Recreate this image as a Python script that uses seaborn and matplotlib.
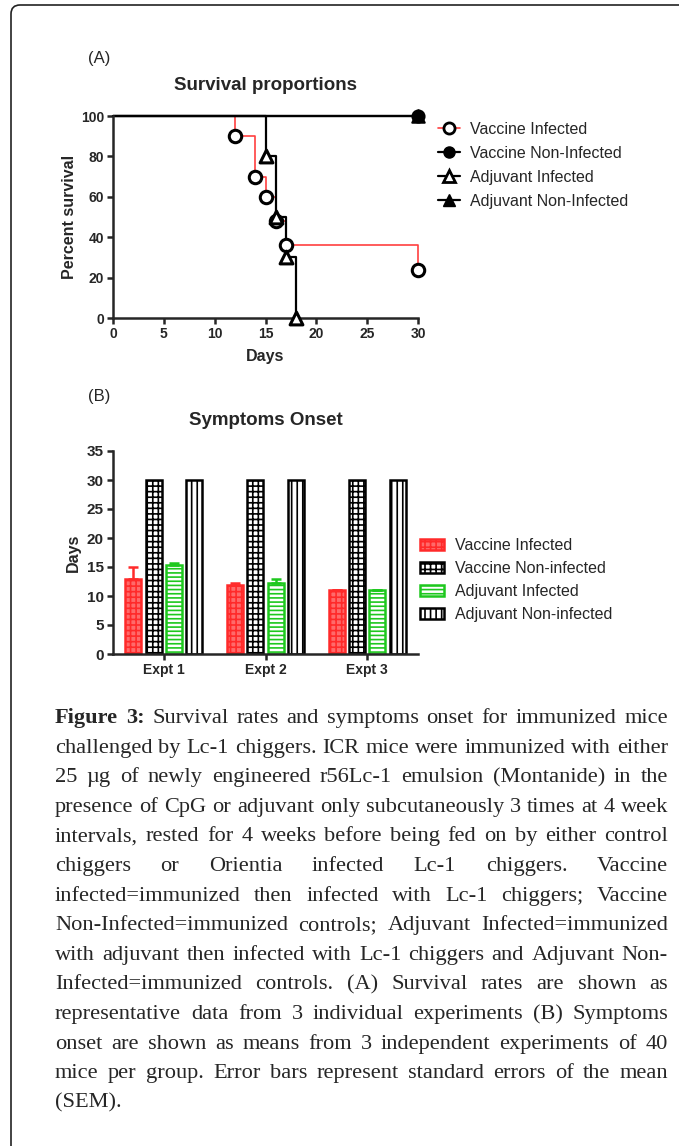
import numpy as np
import pandas as pd
import matplotlib
matplotlib.use("Agg")
import matplotlib.pyplot as plt
import seaborn as sns
from matplotlib.lines import Line2D
from matplotlib.patches import Patch, FancyBboxPatch

# (A) survival proportions
vi_days = [0, 12, 14, 15, 16, 17, 30]
vi_surv = [100, 90, 70, 60, 48, 36, 24]
vn_days = [0, 30]
vn_surv = [100, 100]
ai_days = [0, 15, 16, 17, 18]
ai_surv = [100, 80, 50, 30, 0]
an_days = [0, 30]
an_surv = [100, 100]
surv_labels = ["Vaccine Infected", "Vaccine Non-Infected", "Adjuvant Infected", "Adjuvant Non-Infected"]

# (B) symptoms onset
expts = ["Expt 1", "Expt 2", "Expt 3"]
groups_b = ["Vaccine Infected", "Vaccine Non-infected", "Adjuvant Infected", "Adjuvant Non-infected"]
onset_vi = [13.0, 11.9, 11.0]
onset_vn = [30, 30, 30]
onset_ai = [15.4, 12.2, 11.0]
onset_an = [30, 30, 30]
sem_vi = [2.0, 0.4, 0.0]
sem_ai = [0.25, 0.7, 0.0]

cap_lines = [
    "Figure 3: Survival rates and symptoms onset for immunized mice",
    "challenged by Lc-1 chiggers. ICR mice were immunized with either",
    "25 \u00b5g of newly engineered r56Lc-1 emulsion (Montanide) in the",
    "presence of CpG or adjuvant only subcutaneously 3 times at 4 week",
    "intervals, rested for 4 weeks before being fed on by either control",
    "chiggers or Orientia infected Lc-1 chiggers. Vaccine",
    "infected=immunized then infected with Lc-1 chiggers; Vaccine",
    "Non-Infected=immunized controls; Adjuvant Infected=immunized",
    "with adjuvant then infected with Lc-1 chiggers and Adjuvant Non-",
    "Infected=immunized controls. (A) Survival rates are shown as",
    "representative data from 3 individual experiments (B) Symptoms",
    "onset are shown as means from 3 independent experiments of 40",
    "mice per group. Error bars represent standard errors of the mean",
    "(SEM).",
]

sns.set_style("ticks")
plt.rcParams["font.family"] = ["Liberation Sans", "DejaVu Sans"]
plt.rcParams["hatch.linewidth"] = 1.2

W, H = 679, 1146
fig = plt.figure(figsize=(W / 100, H / 100), dpi=100)
RED = "#ff2a2a"
GREEN = "#1ec81e"

def style_axis(ax, xsize, ysize):
    sns.despine(ax=ax)
    for s in ["left", "bottom"]:
        ax.spines[s].set_linewidth(1.8)
    ax.tick_params(width=1.8, length=4.5, pad=2)
    ax.tick_params(axis="x", labelsize=xsize)
    ax.tick_params(axis="y", labelsize=ysize)
    for lbl in ax.get_xticklabels() + ax.get_yticklabels():
        lbl.set_fontweight("bold")

# ---------------- panel A
axA = fig.add_axes([113 / W, 1 - 318 / H, 305 / W, 202 / H])
sns.lineplot(x=vi_days, y=vi_surv, drawstyle="steps-post", color="#ff4040", lw=1.2, ax=axA, clip_on=False)
sns.lineplot(x=ai_days, y=ai_surv, drawstyle="steps-post", color="black", lw=1.6, ax=axA, clip_on=False)
sns.lineplot(x=vn_days, y=vn_surv, drawstyle="steps-post", color="black", lw=1.6, ax=axA, clip_on=False)
sns.lineplot(x=an_days, y=an_surv, drawstyle="steps-post", color="black", lw=1.6, ax=axA, clip_on=False)

sns.scatterplot(x=vi_days[1:], y=vi_surv[1:], marker="o", s=80, color="white", edgecolor="black",
                linewidth=2.2, ax=axA, clip_on=False, zorder=5)
sns.scatterplot(x=vn_days[-1:], y=vn_surv[-1:], marker="o", s=75, color="black", edgecolor="black",
                linewidth=1.5, ax=axA, clip_on=False, zorder=5)
sns.scatterplot(x=ai_days[1:], y=ai_surv[1:], marker="^", s=85, color="white", edgecolor="black",
                linewidth=2.2, ax=axA, clip_on=False, zorder=5)
sns.scatterplot(x=an_days[-1:], y=an_surv[-1:], marker="^", s=80, color="black", edgecolor="black",
                linewidth=1.5, ax=axA, clip_on=False, zorder=6)

axA.set_xlim(0, 30)
axA.set_ylim(0, 100)
axA.set_xticks(range(0, 31, 5))
axA.set_yticks(range(0, 101, 20))
style_axis(axA, 10, 10)
axA.set_xlabel("Days", fontsize=11.5, fontweight="bold")
axA.set_ylabel("Percent survival", fontsize=11.5, fontweight="bold")
axA.xaxis.set_label_coords(0.5, -(357 - 318) / 202)
axA.xaxis.label.set_va("center")
axA.yaxis.set_label_coords(-(113 - 69) / 305, 0.5)
axA.yaxis.label.set_va("center")
fig.text(266 / W, 1 - 85 / H, "Survival proportions", ha="center", va="center", fontsize=13.5, fontweight="bold")
fig.text(88 / W, 1 - 58 / H, "(A)", ha="left", va="center", fontsize=12)

hA = [
    Line2D([], [], color="#ff4040", lw=1.2, marker="o", ms=8, mfc="white", mec="black", mew=2),
    Line2D([], [], color="black", lw=1.6, marker="o", ms=8, mfc="black", mec="black"),
    Line2D([], [], color="black", lw=1.6, marker="^", ms=8, mfc="white", mec="black", mew=2),
    Line2D([], [], color="black", lw=1.6, marker="^", ms=8, mfc="black", mec="black"),
]
axA.legend(hA, surv_labels, loc="upper left", bbox_to_anchor=(438 / W, 1 - 122 / H),
           bbox_transform=fig.transFigure, frameon=False, fontsize=11.5, handlelength=1.4,
           handletextpad=0.6, labelspacing=0.56, borderpad=0, borderaxespad=0)

# ---------------- panel B
df_b = pd.DataFrame({
    "Expt": expts * 4,
    "Group": np.repeat(groups_b, 3),
    "Days": onset_vi + onset_vn + onset_ai + onset_an,
})
axB = fig.add_axes([113 / W, 1 - 654 / H, 305 / W, 203 / H])
sns.barplot(data=df_b, x="Expt", y="Days", hue="Group", order=expts, hue_order=groups_b,
            errorbar=None, width=0.8, gap=0.2, legend=False, ax=axB)

bar_styles = [
    dict(facecolor="#ff6a6a", edgecolor=RED, hatch="+++"),
    dict(facecolor="white", edgecolor="black", hatch="+++"),
    dict(facecolor="white", edgecolor=GREEN, hatch="----"),
    dict(facecolor="white", edgecolor="black", hatch="|||"),
]
for cont, st in zip(axB.containers, bar_styles):
    for p in cont:
        p.set_facecolor(st["facecolor"])
        p.set_edgecolor(st["edgecolor"])
        p.set_hatch(st["hatch"])
        p.set_linewidth(1.8)

for idx, sems, col in [(0, sem_vi, RED), (2, sem_ai, GREEN)]:
    bars = axB.containers[idx]
    xs = [p.get_x() + p.get_width() / 2 for p in bars]
    ys = [p.get_height() for p in bars]
    axB.errorbar(xs, ys, yerr=[np.zeros(len(sems)), sems], fmt="none", ecolor=col,
                 elinewidth=1.8, capsize=3.5, capthick=1.8, zorder=1)

axB.set_ylim(0, 35)
axB.set_xlim(-0.5, 2.5)
axB.set_yticks(range(0, 36, 5))
style_axis(axB, 10, 11)
axB.set_xlabel("")
axB.set_ylabel("Days", fontsize=11.5, fontweight="bold")
axB.yaxis.set_label_coords(-(113 - 73) / 305, 0.5)
axB.yaxis.label.set_va("center")
fig.text(266 / W, 1 - 421 / H, "Symptoms Onset", ha="center", va="center", fontsize=13.5, fontweight="bold")
fig.text(88 / W, 1 - 396 / H, "(B)", ha="left", va="center", fontsize=12)

hB = [Patch(**st, linewidth=1.8) for st in bar_styles]
axB.legend(hB, groups_b, loc="upper left", bbox_to_anchor=(420 / W, 1 - 538 / H),
           bbox_transform=fig.transFigure, frameon=False, fontsize=11.5, handlelength=1.5,
           handleheight=0.75, handletextpad=0.7, labelspacing=0.5, borderpad=0, borderaxespad=0)

# ---------------- caption, justified
serif = "Liberation Serif"
renderer = fig.canvas.get_renderer()

def text_w(s, size, bold=False):
    t = fig.text(0, 0, s, fontsize=size, family=serif, fontweight="bold" if bold else "normal")
    w = t.get_window_extent(renderer).width
    t.remove()
    return w

cap_left, cap_right = 55, 668
base = 15.0
space0 = text_w("x x", base) - text_w("xx", base)
natural = []
for i, line in enumerate(cap_lines):
    words = line.split()
    ws = [text_w(w, base, bold=(i == 0 and j < 2)) for j, w in enumerate(words)]
    natural.append(sum(ws) + space0 * (len(words) - 1))
cap_size = base * (cap_right - cap_left) / max(natural)
scale = cap_size / base

for i, line in enumerate(cap_lines):
    words = line.split()
    ws = [text_w(w, cap_size, bold=(i == 0 and j < 2)) for j, w in enumerate(words)]
    if i == len(cap_lines) - 1 or len(words) == 1:
        gap = space0 * scale
    else:
        gap = (cap_right - cap_left - sum(ws)) / (len(words) - 1)
    x = cap_left
    y = 723 + i * 29.6
    for j, (w, wd) in enumerate(zip(words, ws)):
        fig.text(x / W, 1 - y / H, w, fontsize=cap_size, family=serif, va="baseline", ha="left",
                 fontweight="bold" if (i == 0 and j < 2) else "normal")
        x += wd + gap

# outer frame, only top and left edges fall inside the picture
frame = FancyBboxPatch((0.11, -0.5), 7.5, 11.41 + 0.5, boxstyle="round,pad=0,rounding_size=0.09",
                       transform=fig.dpi_scale_trans, fill=False, lw=1.2, ec="#222222")
fig.add_artist(frame)

fig.savefig("out.png", dpi=100)
